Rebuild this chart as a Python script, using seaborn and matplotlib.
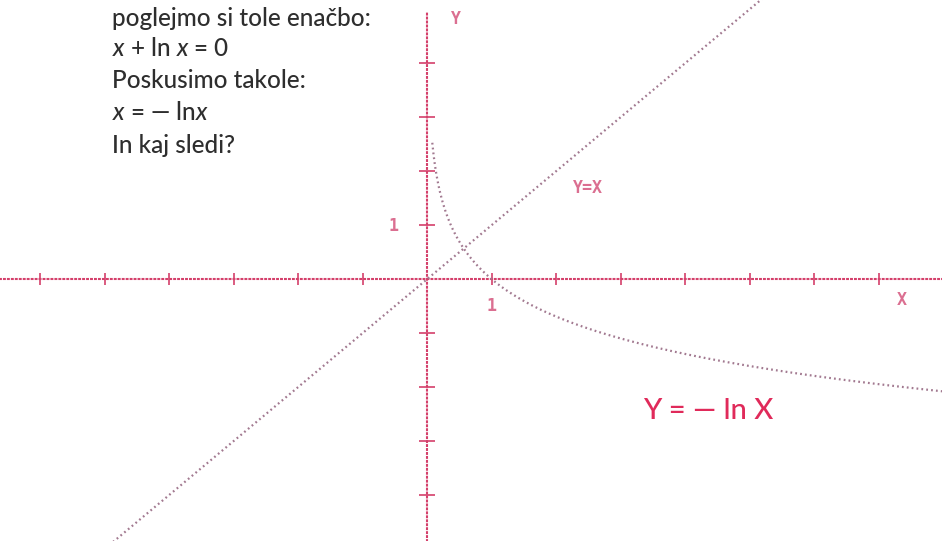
import numpy as np
import pandas as pd
import matplotlib
matplotlib.use("Agg")
import matplotlib.pyplot as plt
import seaborn as sns

# Curves and axes
line_x = np.linspace(-6.7, 8.0, 300)
curve_x = np.linspace(0.08, 8.0, 400)
x_ticks = [-6, -5, -4, -3, -2, -1, 1, 2, 3, 4, 5, 6, 7]
y_ticks = [-4, -3, -2, -1, 1, 2, 3, 4]

text_lines = [
    "poglejmo si tole enačbo:",
    r"$x$ + ln $x$ = 0",
    "Poskusimo takole:",
    r"$x$ = — ln$x$",
    "In kaj sledi?",
]
curve_label = "Y = — ln X"

sns.set_theme(style="white")
plt.rcParams["font.family"] = ["Lato", "DejaVu Sans"]
plt.rcParams["mathtext.fontset"] = "custom"
plt.rcParams["mathtext.rm"] = "Lato:medium"
plt.rcParams["mathtext.it"] = "Lato:italic:medium"

W, H = 942, 541
fig = plt.figure(figsize=(W / 100, H / 100), dpi=100)
ax = fig.add_axes([0, 0, 1, 1])
ax.set_xlim(-6.62, 7.98)
ax.set_ylim(-4.85, 5.17)
ax.axis("off")

axis_col = "#d4406b"
curve_col = "#a27990"
label_col = "#cf3f6c"

# coordinate axes
ax_df = pd.DataFrame({"x": [-6.7, 8.0], "y": [0, 0]})
sns.lineplot(data=ax_df, x="x", y="y", ax=ax, color=axis_col, lw=1.5,
             linestyle=(0, (1.4, 0.5)), estimator=None)
ay_df = pd.DataFrame({"x": [0, 0], "y": [-4.9, 4.95]})
sns.lineplot(data=ay_df, x="x", y="y", ax=ax, color=axis_col, lw=1.5,
             linestyle=(0, (1.4, 0.5)), estimator=None, orient="y")

# tick crosses
sns.scatterplot(x=x_ticks, y=[0] * len(x_ticks), ax=ax, marker="|", s=80,
                color=axis_col, linewidth=1.2)
sns.scatterplot(x=[0] * len(y_ticks), y=y_ticks, ax=ax, marker="_", s=130,
                color=axis_col, linewidth=1.2)

# y = x
diag = pd.DataFrame({"x": line_x, "y": line_x})
sns.lineplot(data=diag, x="x", y="y", ax=ax, color=curve_col, lw=1.6,
             linestyle=(0, (0.8, 1.4)), estimator=None)

# y = -ln x
lg = pd.DataFrame({"x": curve_x, "y": -np.log(curve_x)})
sns.lineplot(data=lg, x="x", y="y", ax=ax, color=curve_col, lw=1.6,
             linestyle=(0, (0.8, 1.4)), estimator=None, sort=False)

# dot-matrix style labels
mono = dict(family="DejaVu Sans Mono", color=label_col, fontweight="bold",
            fontsize=12, ha="center", va="center", alpha=0.75)
ax.text(0.44, 4.82, "Y", **mono)
ax.text(7.35, -0.38, "X", **mono)
ax.text(-0.52, 0.98, "1", **mono)
ax.text(1.0, -0.5, "1", **mono)
ax.text(2.5, 1.69, "Y=X", **mono)

# function label
ax.text(3.35, -2.45, curve_label, color="#e02a5a", fontsize=21,
        fontweight="medium", ha="left", va="center")

# text block
for i, s in enumerate(text_lines):
    y_px = [18, 49, 81, 113, 145][i]
    fig.text(112 / W, 1 - y_px / H, s, color="#2e2e2e", fontsize=17.5,
             fontweight="medium", ha="left", va="center")

fig.savefig("out.png", dpi=100)
